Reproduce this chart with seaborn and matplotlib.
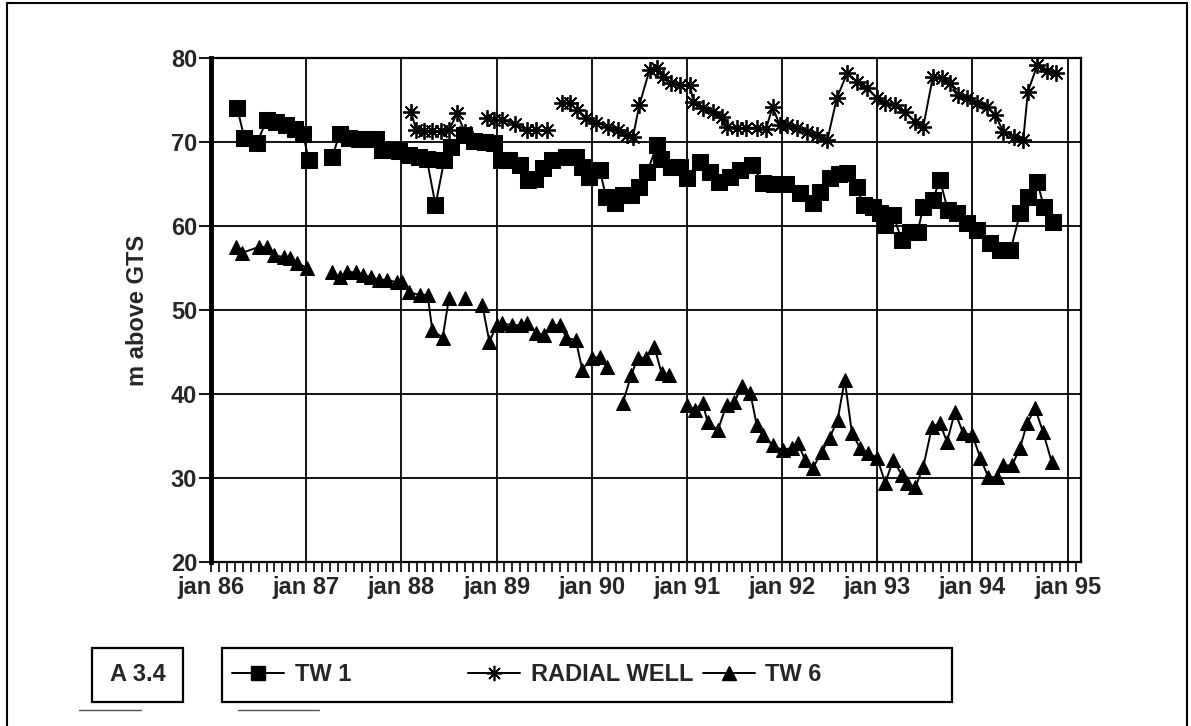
#-------------------------------------------
# Groundwater levels TW 1, radial well, TW 6
# Figure A 3.4, jan 86 - jan 95
#-------------------------------------------

import numpy as np
import pandas as pd
import matplotlib
matplotlib.use("Agg")
import matplotlib.pyplot as plt
import matplotlib.ticker as mtick
from matplotlib.lines import Line2D
from matplotlib.patches import Rectangle
import seaborn as sns

#------------------ DATA -------------------------------------------
# x = months counted from jan 86, None = break in the record

tw1_month = [3.3, 4.2, 5.8, 7.0, 8.2, 9.4, 10.6, 11.6, 12.3, None,
             15.3, 16.2, 17.4, 18.7, 19.9, 20.8, 21.6, 22.6, 23.7, 25.0,
             26.2, 27.2, 28.3, 29.4, 30.2, 31.9, 33.2, 34.5, 35.7, 36.5,
             37.6, 38.9, 40.0, 40.8, 41.8, 43.0, 44.8, 46.0, 46.8, 47.7,
             49.0, 49.8, 50.9, 51.9, 53.0, 54.0, 55.0, 56.2, 56.7, 58.0,
             59.1, 60.0, 61.6, 62.9, 64.0, 65.4, 66.7, 68.2, 69.6, 71.0,
             72.5, 74.2, 75.9, 76.8, 78.0, 79.2, 80.2, 81.4, 82.3, 83.5,
             84.3, 85.0, 86.0, 87.1, 88.1, 89.1, 89.8, 91.0, 91.9, 92.9,
             94.0, 95.3, 96.6, 98.2, 99.5, 100.8, 102.0, 103.0, 104.2, 105.0,
             106.2]
tw1_level = [74.0, 70.5, 69.9, 72.6, 72.4, 72.0, 71.5, 71.0, 67.9, None,
             68.2, 71.0, 70.5, 70.4, 70.3, 70.3, 69.0, 69.0, 68.9, 68.4,
             68.2, 68.0, 62.5, 67.8, 69.4, 70.8, 70.1, 70.0, 69.9, 67.9,
             67.9, 67.3, 65.5, 65.6, 66.9, 67.9, 68.2, 68.2, 67.0, 65.8,
             66.7, 63.5, 62.7, 63.7, 63.7, 64.6, 66.4, 69.6, 68.0, 67.0,
             67.0, 65.7, 67.6, 66.4, 65.2, 65.8, 66.7, 67.3, 65.1, 65.0,
             65.0, 63.9, 62.7, 64.0, 65.7, 66.2, 66.3, 64.6, 62.5, 62.3,
             61.5, 60.1, 61.3, 58.3, 59.3, 59.3, 62.3, 63.1, 65.5, 61.9,
             61.5, 60.4, 59.5, 58.0, 57.1, 57.1, 61.5, 63.5, 65.2, 62.3,
             60.5]

radial_month = [25.2, 25.9, 26.9, 27.9, 29.0, 30.0, 31.0, 32.0, None,
                34.8, 35.7, 36.7, 38.3, 39.8, 41.0, 42.3, None,
                44.2, 45.2, 46.2, 47.3, 48.6, 50.0, 51.3, 52.4, 53.2, 54.0,
                55.3, 56.2, 57.0, 58.0, 59.1, 60.4, 60.8, 62.0, 63.3, 64.4,
                65.0, 66.3, 67.5, 68.8, 70.0, 70.8, 71.7, 72.6, 73.9, 75.1,
                76.4, 77.7, 78.9, 80.2, 81.4, 82.7, 84.0, 85.0, 86.2, 87.5,
                88.8, 89.8, 91.0, 92.2, 93.2, 94.2, 95.3, 96.6, 97.9, 98.9,
                99.9, 101.2, 102.4, 103.0, 104.2, 105.4, 106.5]
radial_level = [73.6, 71.4, 71.3, 71.3, 71.3, 71.4, 73.4, 71.2, None,
                72.9, 72.6, 72.6, 72.2, 71.4, 71.4, 71.4, None,
                74.6, 74.6, 73.8, 72.9, 72.3, 71.8, 71.4, 70.8, 70.6, 74.4,
                78.6, 78.8, 77.7, 77.0, 76.8, 76.8, 74.8, 74.0, 73.6, 73.0,
                71.8, 71.7, 71.7, 71.7, 71.6, 74.2, 72.0, 72.0, 71.7, 71.2,
                70.8, 70.2, 75.2, 78.2, 77.2, 76.4, 75.2, 74.6, 74.4, 73.6,
                72.4, 71.8, 77.7, 77.6, 77.0, 75.6, 75.2, 74.6, 74.2, 73.2,
                71.2, 70.6, 70.2, 76.0, 79.2, 78.4, 78.2]

tw6_month = [3.2, 3.9, 6.0, 7.0, 8.0, 9.2, 10.0, 10.9, 12.1, None,
             15.2, 16.2, 17.2, 18.3, 19.1, 20.2, 21.2, 22.2, 23.4, 24.1,
             25.0, 26.3, 27.3, 27.9, 29.2, 30.0, None, 32.0, None,
             34.2, 35.1, 36.0, 36.7, 37.9, 39.1, 39.9, 41.0, 42.0, 43.0,
             44.0, 44.8, 46.0, 46.8, 48.0, 49.0, 49.9, None,
             51.9, 53.0, 53.8, 54.9, 55.9, 56.8, 57.8, None,
             60.0, 61.0, 62.0, 62.6, 63.9, 65.0, 66.0, 66.9, 68.0, 68.8,
             69.6, 70.8, 72.1, 73.2, 74.0, 74.9, 75.9, 77.0, 78.0, 79.0,
             79.9, 80.8, 81.8, 82.8, 84.0, 85.0, 86.0, 87.1, 87.8, 88.8,
             89.8, 90.9, 91.9, 92.8, 93.8, 94.8, 96.0, 97.0, 98.0, 99.1,
             99.9, 101.0, 102.0, 102.9, 103.9, 104.9, 106.0]
tw6_level = [57.5, 56.8, 57.5, 57.5, 56.5, 56.3, 56.2, 55.6, 55.0, None,
             54.5, 53.9, 54.5, 54.5, 54.2, 53.9, 53.6, 53.6, 53.3, 53.3,
             52.1, 51.8, 51.8, 47.6, 46.7, 51.4, None, 51.4, None,
             50.6, 46.2, 48.2, 48.4, 48.2, 48.2, 48.4, 47.3, 47.0, 48.2,
             48.2, 46.7, 46.4, 42.9, 44.3, 44.4, 43.2, None,
             38.9, 42.3, 44.3, 44.3, 45.6, 42.5, 42.3, None,
             38.7, 38.1, 38.9, 36.7, 35.7, 38.7, 39.0, 41.0, 40.1, 36.3,
             35.1, 33.9, 33.3, 33.6, 34.2, 32.1, 31.2, 33.1, 34.8, 36.9,
             41.7, 35.4, 33.6, 33.0, 32.4, 29.4, 32.1, 30.4, 29.4, 28.9,
             31.3, 36.1, 36.5, 34.3, 37.9, 35.4, 35.1, 32.4, 30.1, 30.1,
             31.5, 31.5, 33.6, 36.5, 38.3, 35.5, 31.9]

year_labels = ['jan 86', 'jan 87', 'jan 88', 'jan 89', 'jan 90',
               'jan 91', 'jan 92', 'jan 93', 'jan 94', 'jan 95']

# Build frames, each unbroken stretch gets its own segment id

def to_frame(months, levels, name):
    d = pd.DataFrame({'month': months, 'level': levels}, dtype=float)
    d['seg'] = d['level'].isna().cumsum()
    d = d.dropna()
    d['well'] = name
    return d

tw1 = to_frame(tw1_month, tw1_level, 'TW 1')
radial = to_frame(radial_month, radial_level, 'RADIAL WELL')
tw6 = to_frame(tw6_month, tw6_level, 'TW 6')

#------------------ DATA VISUALISATION -----------------------------

sns.set_style("white")
plt.rcParams['font.family'] = ['Liberation Sans', 'DejaVu Sans']
plt.rcParams['font.weight'] = 'bold'

fig = plt.figure(figsize = (11.91, 7.26), dpi = 100)
ax = fig.add_axes([0.1772, 0.2259, 0.7305, 0.6942])

line_kw = dict(color = 'black', lw = 1.4, estimator = None, sort = False,
               legend = False, ax = ax)

sns.lineplot(data = radial, x = 'month', y = 'level', units = 'seg',
             marker = (8, 2, 0), markersize = 12, markeredgewidth = 1.3,
             markeredgecolor = 'black', **line_kw)
sns.lineplot(data = tw1, x = 'month', y = 'level', units = 'seg',
             marker = 's', markersize = 11, markeredgecolor = 'black',
             markerfacecolor = 'black', **line_kw)
sns.lineplot(data = tw6, x = 'month', y = 'level', units = 'seg',
             marker = '^', markersize = 10, markeredgecolor = 'black',
             markerfacecolor = 'black', **line_kw)

# Axes

ax.set_xlim(0, 109.7)
ax.set_ylim(20, 80)
ax.xaxis.set_major_locator(mtick.FixedLocator(np.arange(0, 109, 12)))
ax.xaxis.set_minor_locator(mtick.MultipleLocator(1))
ax.set_xticklabels(year_labels)
ax.yaxis.set_major_locator(mtick.MultipleLocator(10))

ax.grid(True, which = 'major', color = 'black', lw = 1.3)
ax.tick_params(axis = 'x', which = 'both', direction = 'out', length = 7,
               width = 1.2, color = 'black', pad = 3, labelsize = 17,
               bottom = True, top = False)
ax.tick_params(axis = 'y', which = 'major', direction = 'out', length = 9,
               width = 1.3, color = 'black', pad = 1, labelsize = 17,
               left = True, right = False)
for lab in ax.get_xticklabels() + ax.get_yticklabels():
    lab.set_fontweight('bold')

for side in ['top', 'right', 'bottom']:
    ax.spines[side].set_color('black')
    ax.spines[side].set_linewidth(1.6)
ax.spines['left'].set_color('black')
ax.spines['left'].set_linewidth(3.5)

ax.set_xlabel('')
ax.set_ylabel('m above GTS', fontsize = 17, fontweight = 'bold', labelpad = 16)

# Legend box and figure label

h_tw1 = Line2D([], [], color = 'black', lw = 1.4, marker = 's', markersize = 10)
h_rad = Line2D([], [], color = 'black', lw = 1.4, marker = (8, 2, 0),
               markersize = 11, markeredgewidth = 1.2)
h_tw6 = Line2D([], [], color = 'black', lw = 1.4, marker = '^', markersize = 10)

fig.add_artist(Rectangle((0.1864, 0.0331), 0.6129, 0.0744, transform = fig.transFigure,
                         fill = False, edgecolor = 'black', lw = 1.6))
fig.add_artist(Rectangle((0.0772, 0.0331), 0.0764, 0.0744, transform = fig.transFigure,
                         fill = False, edgecolor = 'black', lw = 1.6))
fig.text(0.1154, 0.0703, 'A 3.4', ha = 'center', va = 'center',
         fontsize = 17, fontweight = 'bold')

leg_kw = dict(frameon = False, fontsize = 17, handlelength = 2.2, handletextpad = 0.45,
              borderpad = 0, borderaxespad = 0, loc = 'center left')
leg1 = fig.legend([h_tw1], ['TW 1'], bbox_to_anchor = (0.195, 0.0703), **leg_kw)
leg2 = fig.legend([h_rad, h_tw6], ['RADIAL WELL', 'TW 6'], ncol = 2, columnspacing = 0.4,
                  bbox_to_anchor = (0.393, 0.0703), **leg_kw)
for leg in (leg1, leg2):
    for t in leg.get_texts():
        t.set_fontweight('bold')

# Outer page frame and the short scan marks under the boxes

fig.add_artist(Line2D([0.006, 0.006], [0.0, 0.996], transform = fig.transFigure,
                      color = 'black', lw = 1.5))
fig.add_artist(Line2D([0.006, 0.997], [0.996, 0.996], transform = fig.transFigure,
                      color = 'black', lw = 1.5))
fig.add_artist(Line2D([0.997, 0.997], [0.0, 0.996], transform = fig.transFigure,
                      color = 'black', lw = 1.5))
fig.add_artist(Line2D([0.066, 0.118], [0.022, 0.022], transform = fig.transFigure,
                      color = '#555555', lw = 1.0))
fig.add_artist(Line2D([0.200, 0.268], [0.022, 0.022], transform = fig.transFigure,
                      color = '#555555', lw = 1.0))

plt.savefig('out.png', dpi = 100)
